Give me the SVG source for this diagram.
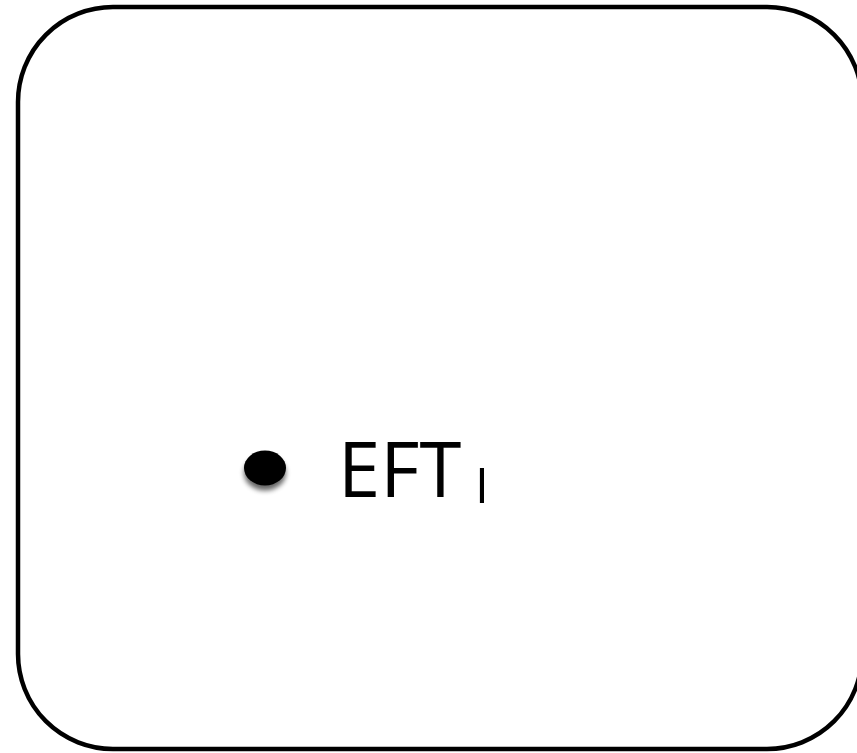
<svg xmlns="http://www.w3.org/2000/svg" width="857" height="753" viewBox="0 0 857 753">
  <style>
    .frame { fill: #ffffff; stroke: #000000; stroke-width: 4.5; }
    .label { font-family: "Open Sans", "Liberation Sans", sans-serif; fill: #000000; }
  </style>
  <defs>
    <filter id="dotShadow" x="-50%" y="-50%" width="200%" height="220%">
      <feGaussianBlur in="SourceAlpha" stdDeviation="2.5"/>
      <feOffset dx="0" dy="5" result="blurred"/>
      <feComponentTransfer><feFuncA type="linear" slope="0.6"/></feComponentTransfer>
      <feMerge><feMergeNode/><feMergeNode in="SourceGraphic"/></feMerge>
    </filter>
  </defs>
  <rect width="857" height="753" fill="#ffffff"/>
  <g id="panel">
    <rect class="frame" x="18" y="7" width="844" height="742" rx="95" ry="95"/>
  </g>
  <g id="bullet-item">
    <ellipse cx="265" cy="468" rx="21" ry="17.5" fill="#000000" filter="url(#dotShadow)"/>
    <text class="label" x="338" y="497" font-size="76" font-weight="500">EFT<tspan x="475" y="503" font-size="50">I</tspan></text>
  </g>
</svg>
